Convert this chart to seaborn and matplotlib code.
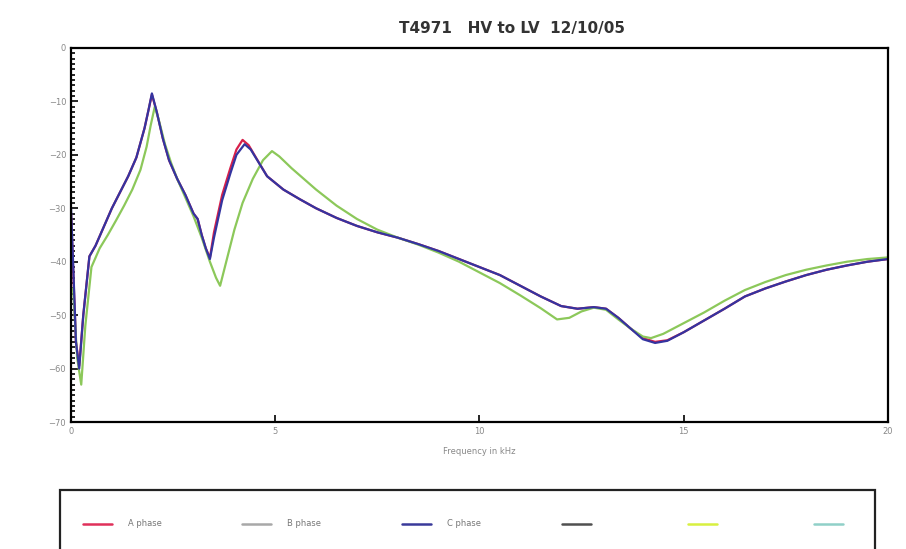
import pandas as pd
import matplotlib.pyplot as plt
import seaborn as sns
from matplotlib.lines import Line2D
from matplotlib.patches import Rectangle
from matplotlib.ticker import MultipleLocator

# frequency (kHz) / response (dB)
freq_c = [0.0, 0.05, 0.12, 0.2, 0.3, 0.45, 0.6, 0.8, 1.0, 1.2, 1.4, 1.6, 1.8, 1.9, 1.98,
          2.1, 2.25, 2.4, 2.6, 2.8, 3.0, 3.1, 3.2, 3.3, 3.4, 3.5, 3.7, 3.9, 4.05, 4.25,
          4.4, 4.6, 4.8, 5.2, 5.6, 6.0, 6.5, 7.0, 7.5, 8.0, 8.5, 9.0, 9.5, 10.0, 10.5,
          11.0, 11.5, 12.0, 12.4, 12.8, 13.1, 13.4, 13.7, 14.0, 14.3, 14.6, 15.0, 15.5,
          16.0, 16.5, 17.0, 17.5, 18.0, 18.5, 19.0, 19.5, 20.0]
c_phase = [-30, -40, -55, -60, -50, -39, -37, -33.5, -30, -27, -24, -20.5, -15, -11.5, -8.5,
           -12, -17, -21, -24.5, -27.5, -31, -32, -35, -37.5, -39.5, -35.5, -28.5, -23.5, -20, -18,
           -19, -21.5, -24, -26.5, -28.3, -30, -31.8, -33.3, -34.5, -35.5, -36.7, -38, -39.5, -41, -42.5,
           -44.5, -46.5, -48.3, -48.8, -48.5, -48.8, -50.5, -52.5, -54.5, -55.2, -54.8, -53.2, -51,
           -48.8, -46.5, -45, -43.7, -42.5, -41.5, -40.7, -40, -39.5]

freq_a = [0.0, 0.05, 0.12, 0.2, 0.3, 0.45, 0.6, 0.8, 1.0, 1.2, 1.4, 1.6, 1.8, 1.9, 1.98,
          2.1, 2.25, 2.4, 2.6, 2.8, 3.0, 3.1, 3.2, 3.3, 3.4, 3.5, 3.7, 3.9, 4.05, 4.2,
          4.35, 4.55, 4.8, 5.2, 5.6, 6.0, 6.5, 7.0, 7.5, 8.0, 8.5, 9.0, 9.5, 10.0, 10.5,
          11.0, 11.5, 12.0, 12.4, 12.8, 13.1, 13.4, 13.7, 14.0, 14.3, 14.6, 15.0, 15.5,
          16.0, 16.5, 17.0, 17.5, 18.0, 18.5, 19.0, 19.5, 20.0]
a_phase = [-31, -41, -55, -59.5, -50, -39, -37, -33.5, -30, -27, -24, -20.5, -15, -11.5, -8.7,
           -12, -17, -21, -24.5, -27.5, -31, -32, -35, -37.5, -39.3, -34.5, -27.5, -22.5, -19, -17.2,
           -18.2, -20.8, -24, -26.5, -28.3, -30, -31.8, -33.3, -34.5, -35.5, -36.7, -38, -39.5, -41, -42.5,
           -44.5, -46.5, -48.3, -48.8, -48.5, -48.8, -50.5, -52.5, -54.3, -55.0, -54.7, -53.2, -51,
           -48.8, -46.5, -45, -43.7, -42.5, -41.5, -40.7, -40, -39.5]

freq_b = [0.05, 0.15, 0.25, 0.35, 0.5, 0.7, 0.9, 1.1, 1.3, 1.5, 1.7, 1.85, 1.95, 2.05,
          2.15, 2.3, 2.45, 2.6, 2.8, 3.0, 3.2, 3.4, 3.55, 3.65, 3.8, 4.0, 4.2, 4.45, 4.7,
          4.92, 5.1, 5.4, 5.7, 6.0, 6.5, 7.0, 7.5, 8.0, 8.5, 9.0, 9.5, 10.0, 10.5, 11.0,
          11.5, 11.9, 12.2, 12.5, 12.8, 13.1, 13.4, 13.7, 14.0, 14.2, 14.5, 15.0, 15.5,
          16.0, 16.5, 17.0, 17.5, 18.0, 18.5, 19.0, 19.5, 20.0]
b_phase = [-45, -58, -63, -52, -41, -37.5, -35, -32.3, -29.5, -26.5, -22.8, -18.5, -14.5, -11,
           -13.5, -18, -21.5, -24.5, -28, -31.5, -35.5, -40, -43, -44.5, -40, -34, -29, -24.5, -21,
           -19.3, -20.3, -22.5, -24.5, -26.5, -29.5, -32, -34, -35.5, -36.8, -38.3, -40, -42, -44, -46.3,
           -48.7, -50.8, -50.5, -49.3, -48.6, -49, -50.8, -52.5, -54, -54.3, -53.5, -51.5, -49.5,
           -47.3, -45.3, -43.8, -42.5, -41.5, -40.7, -40, -39.5, -39.2]

legend_labels = ['A phase', 'B phase', 'C phase', '', '', '']
legend_colors = ['#e0305a', '#a8a8a8', '#3a3a9a', '#505050', '#d8f040', '#90d0c8']

sns.set_style('white')

fig = plt.figure(figsize=(9.06, 5.49), dpi=100)
ax = fig.add_axes([0.0784, 0.2313, 0.9016, 0.6813])

sns.lineplot(x=freq_a, y=a_phase, ax=ax, color='#d8204a', linewidth=1.6, sort=False)
sns.lineplot(x=freq_b, y=b_phase, ax=ax, color='#8cc85a', linewidth=1.6, sort=False)
sns.lineplot(x=freq_c, y=c_phase, ax=ax, color='#3434a0', linewidth=1.6, sort=False)

ax.set_xlim(0, 20)
ax.set_ylim(-70, 0)
ax.set_xticks([0, 5, 10, 15, 20])
ax.set_yticks([0, -10, -20, -30, -40, -50, -60, -70])
ax.yaxis.set_minor_locator(MultipleLocator(1))
ax.tick_params(axis='both', which='major', direction='in', length=5, width=1.2,
               labelsize=6, labelcolor='#888888', color='black', left=True, bottom=True)
ax.tick_params(axis='y', which='minor', direction='in', length=3, width=1.2,
               color='black', left=True)
for s in ax.spines.values():
    s.set_linewidth(1.6)
    s.set_color('black')
ax.set_xlabel('Frequency in kHz', fontsize=6, color='#888888', labelpad=8)
ax.set_ylabel('')

fig.text(0.565, 0.948, 'T4971   HV to LV  12/10/05', ha='center', va='center',
         fontsize=11, fontweight='bold', color='#333333')

# legend box (runs off the bottom of the page)
fig.patches.append(Rectangle((60 / 906, -0.05), 815 / 906, 0.05 + 59 / 549,
                             transform=fig.transFigure, fill=False,
                             edgecolor='#222222', linewidth=1.6))
handles = [Line2D([], [], color=c, linewidth=1.8) for c in legend_colors]
fig.legend(handles, legend_labels, loc='center left', bbox_to_anchor=(75 / 906, 1 - 524 / 549),
           ncol=6, frameon=False, fontsize=6, handlelength=3.5, handletextpad=1.9,
           columnspacing=9.7, labelcolor='#777777')

plt.savefig('out.png', dpi=100)
